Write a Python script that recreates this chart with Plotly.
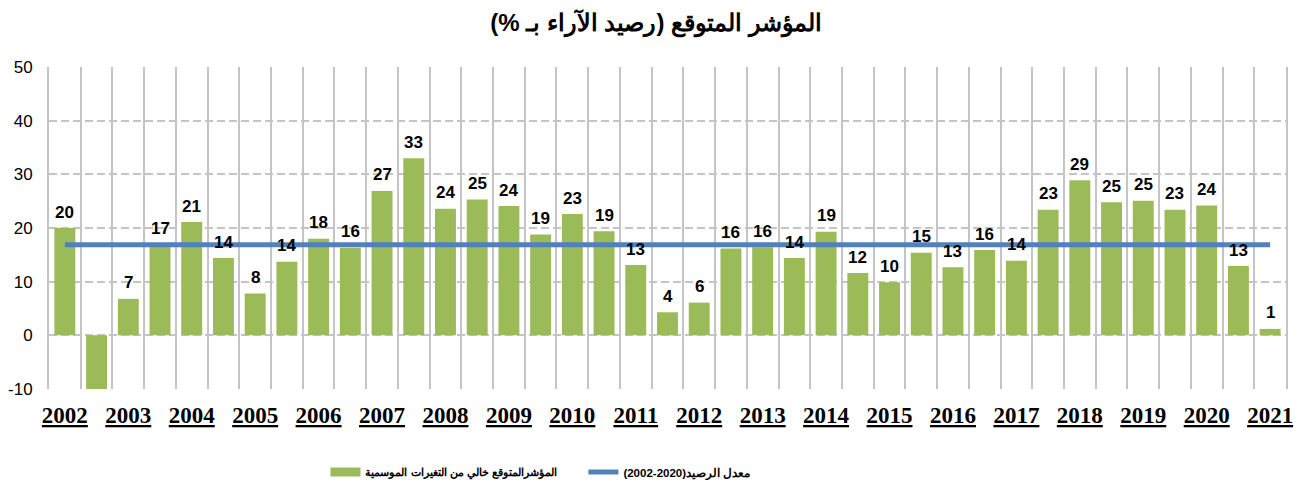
import plotly.graph_objects as go

# ---- data (semi-annual balance of opinions, %) ----
periods = ["2002-1", "2002-2", "2003-1", "2003-2", "2004-1", "2004-2", "2005-1", "2005-2",
           "2006-1", "2006-2", "2007-1", "2007-2", "2008-1", "2008-2", "2009-1", "2009-2",
           "2010-1", "2010-2", "2011-1", "2011-2", "2012-1", "2012-2", "2013-1", "2013-2",
           "2014-1", "2014-2", "2015-1", "2015-2", "2016-1", "2016-2", "2017-1", "2017-2",
           "2018-1", "2018-2", "2019-1", "2019-2", "2020-1", "2020-2", "2021-1"]
indicator = [20.0, -10.0, 6.8, 17.0, 21.1, 14.4, 7.8, 13.7,
             18.0, 16.3, 26.9, 33.0, 23.6, 25.3, 24.1, 18.8,
             22.6, 19.4, 13.1, 4.3, 6.1, 16.2, 16.4, 14.4,
             19.3, 11.6, 9.9, 15.4, 12.7, 15.9, 13.9, 23.4,
             28.9, 24.8, 25.1, 23.4, 24.2, 12.9, 1.2]
average_value = 16.9
average = [average_value] * len(periods)
year_labels = ["2002", "2003", "2004", "2005", "2006", "2007", "2008", "2009", "2010", "2011",
               "2012", "2013", "2014", "2015", "2016", "2017", "2018", "2019", "2020", "2021"]
y_ticks = [-10, 0, 10, 20, 30, 40, 50]

title_text = "\u200fالمؤشر المتوقع (رصيد الآراء بـ %)\u200f"
bar_name = "\u200fالمؤشرالمتوقع خالي من التغيرات الموسمية\u200f"
line_name = "\u200fمعدل الرصيد(\u20662002-2020\u2069)\u200f"

GREEN = "#9BBB59"
BLUE = "#4F81BD"
GRID = "#C4C4C4"
Y_MIN, Y_MAX = y_ticks[0], y_ticks[-1]

x_idx = list(range(len(periods)))

fig = go.Figure()
fig.add_trace(go.Bar(
    x=x_idx, y=indicator, marker=dict(color=GREEN, line=dict(width=0)),
    showlegend=False, hovertext=periods, name=bar_name,
))
# legend proxy for the bar series (wide flat swatch like the reference)
fig.add_trace(go.Scatter(
    x=[None], y=[None], mode="lines", line=dict(color=GREEN, width=9),
    name=bar_name, showlegend=True, legend="legend",
))
fig.add_trace(go.Scatter(
    x=x_idx, y=average, mode="lines", line=dict(color=BLUE, width=5),
    name=line_name, hovertext=periods, showlegend=True, legend="legend2",
))

annotations = []
for i, v in enumerate(indicator):
    if v <= Y_MIN:
        continue
    annotations.append(dict(
        x=i, y=v, xref="x", yref="y", text=f"<b>{round(v)}</b>", showarrow=False,
        yanchor="middle", yshift=16,
        font=dict(family="Liberation Sans, Arial", size=17, color="#000000"),
    ))

year_pos = [x_idx[2 * k] for k in range(len(year_labels))]

legend_font = dict(family="Liberation Sans, Arial", size=11, color="#000000", weight="bold")

fig.update_layout(
    width=1296, height=472,
    paper_bgcolor="white", plot_bgcolor="white",
    margin=dict(l=41, r=18, t=59, b=91, autoexpand=False),
    title=dict(text=f"<b>{title_text}</b>", x=0.5, xref="container", y=0.970, yanchor="middle",
               font=dict(family="Liberation Sans, Arial", size=24, color="#000000")),
    bargap=0.34,
    annotations=annotations,
    legend=dict(orientation="h", x=0.2235, xanchor="left", y=-0.258, yanchor="middle",
                font=legend_font, itemwidth=30, bgcolor="rgba(0,0,0,0)"),
    legend2=dict(orientation="h", x=0.432, xanchor="left", y=-0.258, yanchor="middle",
                 font=dict(legend_font, size=11.5), itemwidth=30, bgcolor="rgba(0,0,0,0)"),
    xaxis=dict(
        range=[-0.5, len(periods) - 0.5], automargin=False,
        tickmode="array", tickvals=year_pos,
        ticktext=[f"<b><u>{y}</u></b>" for y in year_labels],
        tickfont=dict(family="Liberation Serif, Times New Roman", size=23, color="#000000"),
        showgrid=False, zeroline=False, showline=False, ticks="",
        ticklabelstandoff=10,
        minor=dict(tickmode="array", tickvals=[i - 0.5 for i in range(len(periods) + 1)],
                   showgrid=True, gridcolor=GRID, gridwidth=2, ticks=""),
    ),
    yaxis=dict(
        range=[Y_MIN, Y_MAX], tickmode="array", tickvals=y_ticks,
        ticktext=[str(t) for t in y_ticks], automargin=False,
        showgrid=True, gridcolor=GRID, gridwidth=2, griddash="8px,4px",
        zeroline=False, showline=True, linecolor=GRID, linewidth=2, mirror=True,
        tickfont=dict(family="Liberation Sans, Arial", size=17, color="#000000"),
        ticks="", ticklabelstandoff=11,
    ),
)

fig.write_html("out.html")
